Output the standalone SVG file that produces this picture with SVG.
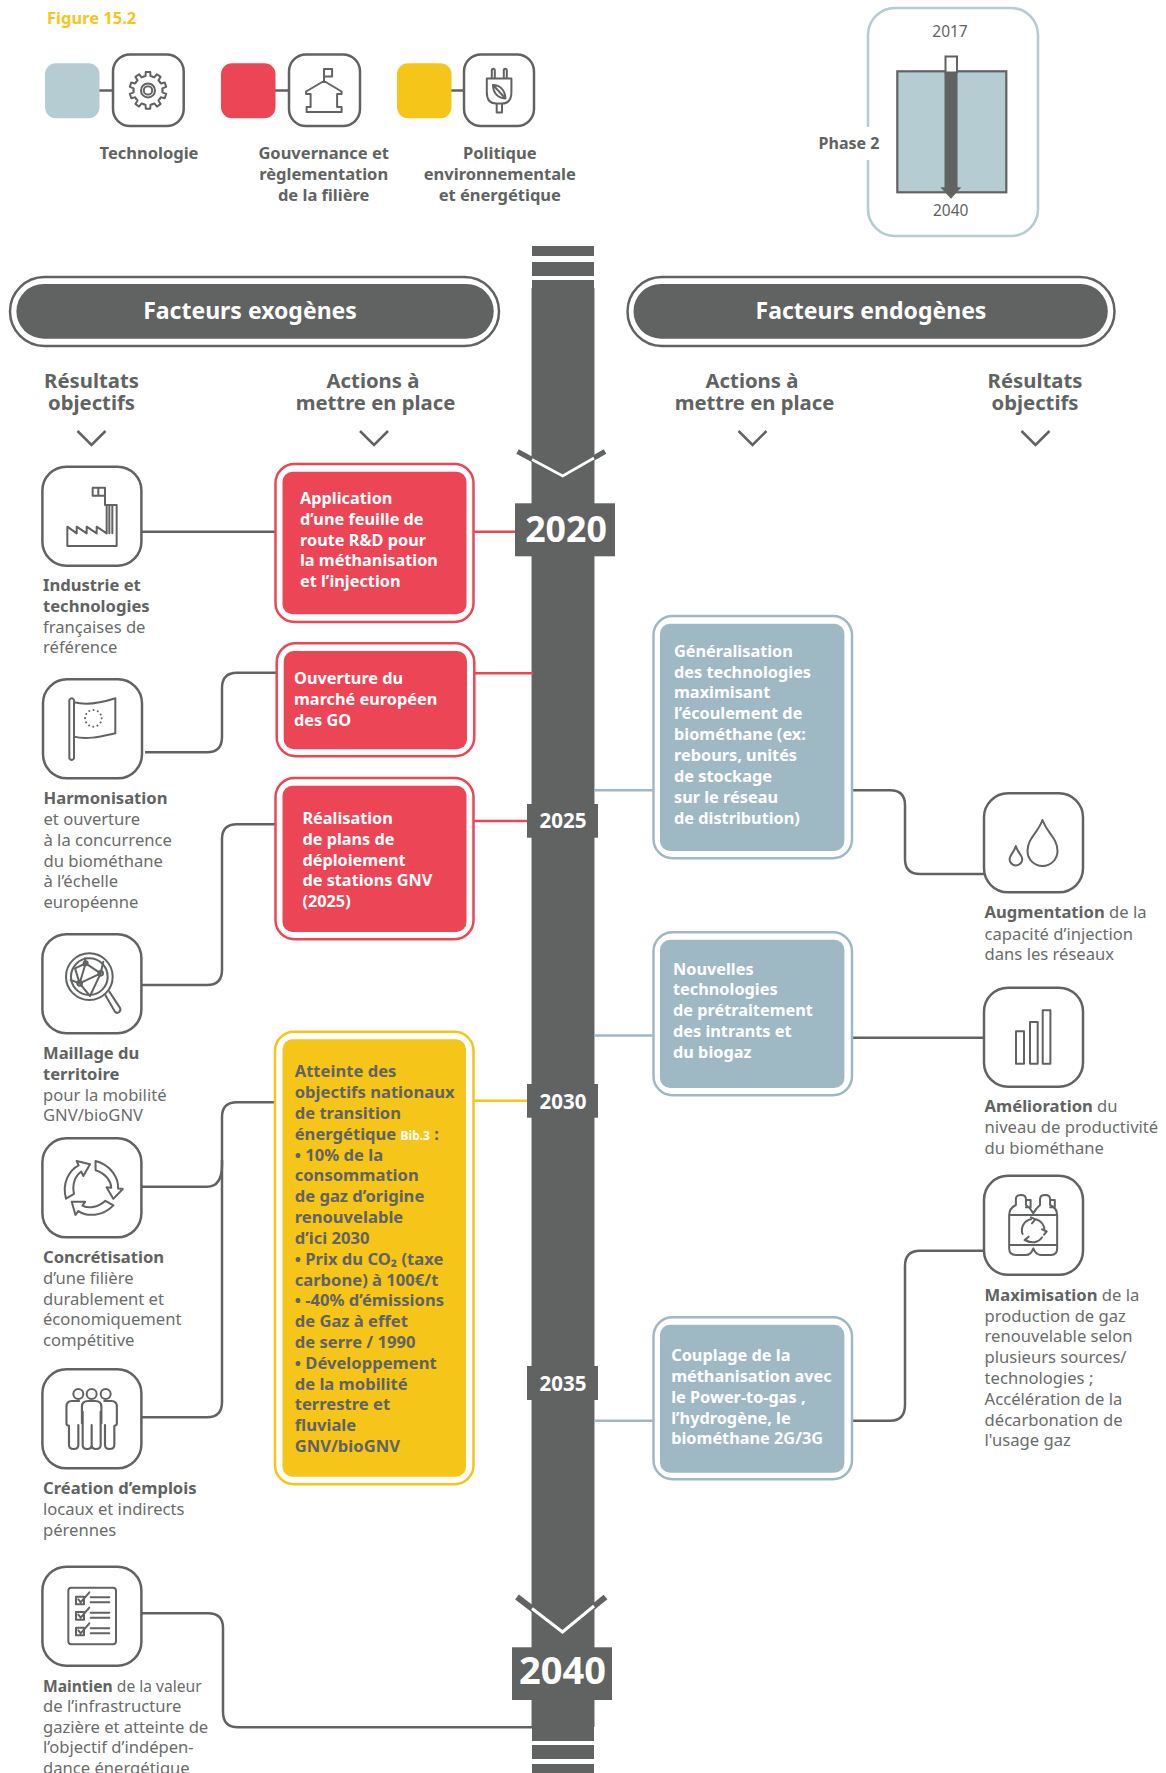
<svg xmlns="http://www.w3.org/2000/svg" xmlns:xlink="http://www.w3.org/1999/xlink" width="1166" height="1773" viewBox="0 0 1166 1773">
<style>
text{font-family:"Noto Sans","Open Sans","Liberation Sans",sans-serif;fill:#616362}
.b{font-weight:700}
.t{font-size:16.6px;font-weight:400;fill:#6a6c6b}
.t .b{fill:#616362}
.w{font-size:16.3px;font-weight:700;fill:#fff}
.g{font-size:16.6px;font-weight:700}
.h{font-size:20.3px;font-weight:700;text-anchor:middle}
.lg{font-size:16.5px;font-weight:700;text-anchor:middle}
.y{font-weight:700;fill:#fff;text-anchor:middle}
.pill{font-size:23px;font-weight:700;fill:#fff;text-anchor:middle}
.sq{fill:#fff;stroke:#616362;stroke-width:2.5}
.ic{fill:none;stroke:#616362;stroke-width:2;stroke-linejoin:round;stroke-linecap:round}
.z{fill:none;stroke:#616362;stroke-width:6;stroke-linejoin:round;stroke-linecap:round}
.cg{fill:none;stroke:#616362;stroke-width:2.5}
.cb{fill:none;stroke:#9eb9c4;stroke-width:2.5}
.cr{fill:none;stroke:#ec4556;stroke-width:2.5}
.cy{fill:none;stroke:#f6c519;stroke-width:2.5}
.dk{fill:#616362}
</style>
<defs>
<path id="tooth" d="M-4.48,-13.79 L-2.52,-14.28 L-2.25,-18.36 L2.25,-18.36 L2.52,-14.28 L4.48,-13.79"/>
<path id="rec" d="M78,806 C65,760 88,720 116,706 L110,693 L150,703 L130,738 L124,725 C108,735 95,760 102,792 Z"/>
<rect id="box" x="0" y="0" width="99" height="99" rx="24"/>
</defs>

<g id="pillar">
<rect x="531" y="288" width="64" height="1439" fill="#b3b6b6"/>
<rect class="dk" x="532" y="246" width="62" height="10"/>
<rect class="dk" x="532" y="262" width="62" height="14"/>
<rect class="dk" x="532" y="280" width="62" height="1461"/>
<rect class="dk" x="532" y="1745" width="62" height="14"/>
<rect class="dk" x="532" y="1764" width="62" height="9"/>
<polyline points="517.5,451.5 562.7,476 605,451.5" fill="none" stroke="#616362" stroke-width="5"/>
<polyline points="532,459.5 562.7,476 594,458" fill="none" stroke="#fff" stroke-width="2.6"/>
<polyline points="517,1597 562.5,1632 605.5,1597" fill="none" stroke="#616362" stroke-width="6"/>
<polyline points="532,1608.5 562.5,1632 594,1606" fill="none" stroke="#fff" stroke-width="3"/>
</g>

<g id="connectors">
<path class="cg" d="M141,531.7H275"/>
<path class="cr" d="M473,531.7H516"/>
<path class="cg" d="M145,752.3H207Q222,752.3 222,737V688Q222,672.7 237,672.7H277"/>
<path class="cr" d="M474,673.3H533"/>
<path class="cg" d="M141,985H207Q222,985 222,970V839Q222,824.3 237,824.3H275"/>
<path class="cr" d="M473,821H528"/>
<path class="cg" d="M141,1417.3H207Q222,1417.3 222,1402V1117Q222,1102.3 237,1102.3H275"/>
<path class="cg" d="M141,1186.7H207Q222,1186.7 222,1165V1160"/>
<path class="cy" d="M473,1100.7H528"/>
<path class="cg" d="M141,1613.3H208Q223,1613.3 223,1628V1712Q223,1727.3 238,1727.3H533"/>
<path class="cb" d="M594,790.2H653"/>
<path class="cg" d="M852,790.2H890Q905,790.2 905,805V859Q905,874 920,874H984"/>
<path class="cb" d="M594,1035.6H653"/>
<path class="cg" d="M852,1037.8H984"/>
<path class="cb" d="M594,1420.7H653"/>
<path class="cg" d="M852,1420.7H890Q905,1420.7 905,1405V1266Q905,1250.7 920,1250.7H984"/>
<path class="cg" d="M99,90.4H114M275,90.4H290M451,90.4H465"/>
</g>

<text id="figure-title" x="47" y="24" font-size="16.5" font-weight="700" style="fill:#f6c519">Figure 15.2</text>

<g id="legend-tech">
<rect x="45" y="63.3" width="54.5" height="55" rx="11" fill="#b5ccd3"/>
<rect class="sq" x="113" y="54.5" width="70.7" height="71.5" rx="17"/>
<g class="ic" stroke-width="1.7" transform="translate(148,90.4)">
<use xlink:href="#tooth"/><use xlink:href="#tooth" transform="rotate(36)"/><use xlink:href="#tooth" transform="rotate(72)"/><use xlink:href="#tooth" transform="rotate(108)"/><use xlink:href="#tooth" transform="rotate(144)"/><use xlink:href="#tooth" transform="rotate(180)"/><use xlink:href="#tooth" transform="rotate(216)"/><use xlink:href="#tooth" transform="rotate(252)"/><use xlink:href="#tooth" transform="rotate(288)"/><use xlink:href="#tooth" transform="rotate(324)"/>
<circle r="7"/><circle r="4.2"/>
</g>
<text class="lg" x="149" y="159">Technologie</text>
</g>
<g id="legend-gov">
<rect x="221" y="63.3" width="54.5" height="55" rx="11" fill="#ec4556"/>
<rect class="sq" x="289" y="54.5" width="71" height="71.5" rx="17"/>
<path class="ic" transform="translate(-3.4,0)" d="M327.4,81 L309.5,91.5 V94 H314 V107 H310 V112 H345 V107 H340.5 V94 H345 V91.5 Z M327.4,81 V69 H335.5 V76.5 H327.4"/>
<text class="lg" x="323.7" y="159"><tspan x="323.7">Gouvernance et</tspan><tspan x="323.7" y="180">règlementation</tspan><tspan x="323.7" y="201">de la filière</tspan></text>
</g>
<g id="legend-pol">
<rect x="397" y="63.3" width="54.5" height="55" rx="11" fill="#f6c519"/>
<rect class="sq" x="464" y="54.5" width="70" height="71.5" rx="17"/>
<path class="ic" transform="translate(-5,0)" d="M496.8,78.5 V70.5 Q496.8,68.7 498.2,68.7 Q499.8,68.7 499.8,70.5 V78.5 M508.8,78.5 V70.5 Q508.8,68.7 510.2,68.7 Q511.8,68.7 511.8,70.5 V78.5 M491.8,78.5 H516.4 V92 Q516.4,103.5 507,103.5 H501 Q491.8,103.5 491.8,92 Z M501.7,103.5 V112.4 H507 V103.5 M498,85 C505,85 510,90 510.5,98.5 C503,98 498,93 498,85 Z M498,85 L510.5,98.5"/>
<text class="lg" x="499.8" y="159"><tspan x="499.8">Politique</tspan><tspan x="499.8" y="180">environnementale</tspan><tspan x="499.8" y="201">et énergétique</tspan></text>
</g>

<g id="phase">
<rect x="868" y="8" width="170" height="228" rx="27" fill="#fff" stroke="#b5ccd3" stroke-width="2.6"/>
<rect x="860" y="127" width="14" height="33" fill="#fff"/>
<rect x="897.3" y="71.3" width="109" height="121" fill="#b5ccd3" stroke="#616362" stroke-width="2.2"/>
<rect x="945.5" y="56.5" width="11.5" height="16" fill="#fff" stroke="#616362" stroke-width="2"/>
<rect class="dk" x="944.5" y="72.5" width="13" height="116"/>
<path class="dk" d="M940.3,187.3H961.3L951,198.7Z"/>
<text x="950" y="37" font-size="15.5" text-anchor="middle">2017</text>
<text x="950.7" y="216" font-size="15.5" text-anchor="middle">2040</text>
<text class="b" x="849" y="149" font-size="16" text-anchor="middle">Phase 2</text>
</g>

<g id="header-exo">
<rect x="10" y="277" width="489" height="69" rx="34.5" fill="#fff" stroke="#616362" stroke-width="2.5"/>
<rect class="dk" x="16.4" y="284" width="477.3" height="54.7" rx="27.3"/>
<text class="pill" x="250" y="319">Facteurs exogènes</text>
</g>
<g id="header-endo">
<rect x="627.5" y="277" width="487" height="69" rx="34.5" fill="#fff" stroke="#616362" stroke-width="2.5"/>
<rect class="dk" x="633.5" y="284" width="474.3" height="54.7" rx="27.3"/>
<text class="pill" x="871" y="319">Facteurs endogènes</text>
</g>

<g id="col-heads">
<text class="h" x="91.5" y="388"><tspan x="91.5">Résultats</tspan><tspan x="91.5" y="410">objectifs</tspan></text>
<text class="h" x="374" y="388"><tspan x="373">Actions à</tspan><tspan x="375.5" y="410">mettre en place</tspan></text>
<text class="h" x="753" y="388"><tspan x="752">Actions à</tspan><tspan x="754.5" y="410">mettre en place</tspan></text>
<text class="h" x="1035" y="388"><tspan x="1035">Résultats</tspan><tspan x="1035" y="410">objectifs</tspan></text>
<path class="cg" stroke-width="2" d="M77.5,431 L91.5,445 L105.5,431 M360,431 L374,445 L388,431 M738.5,431 L752.5,445 L766.5,431 M1021.5,431 L1035.5,445 L1049.5,431"/>
</g>

<g id="year-2020"><rect class="dk" x="515" y="503.3" width="100" height="53"/><text class="y" x="566" y="542" font-size="35.7">2020</text></g>
<g id="year-2025"><rect class="dk" x="527" y="804" width="71" height="33.7"/><text class="y" x="563" y="828" font-size="20.5">2025</text></g>
<g id="year-2030"><rect class="dk" x="527" y="1084" width="71" height="33.7"/><text class="y" x="563" y="1108.5" font-size="20.5">2030</text></g>
<g id="year-2035"><rect class="dk" x="527" y="1366" width="71" height="34"/><text class="y" x="563" y="1390.5" font-size="20.5">2035</text></g>
<g id="year-2040"><rect class="dk" x="512" y="1647.3" width="100" height="52.7"/><text class="y" x="562.4" y="1684" font-size="38">2040</text></g>

<g id="action-feuille">
<rect x="275.5" y="464" width="198" height="158" rx="19" fill="#fff" stroke="#ec4556" stroke-width="2.5"/>
<rect x="282.5" y="471.7" width="184" height="142.6" rx="10" fill="#ec4556"/>
<text class="w"><tspan x="300" y="504">Application</tspan><tspan x="300" y="525">d’une feuille de</tspan><tspan x="300" y="545.5">route R&amp;D pour</tspan><tspan x="300" y="566">la méthanisation</tspan><tspan x="300" y="587">et l’injection</tspan></text>
</g>
<g id="action-go">
<rect x="276.7" y="643.3" width="197.6" height="113" rx="19" fill="#fff" stroke="#ec4556" stroke-width="2.5"/>
<rect x="283.7" y="651" width="183.3" height="98.3" rx="10" fill="#ec4556"/>
<text class="w"><tspan x="294" y="684.3">Ouverture du</tspan><tspan x="294" y="705.3">marché européen</tspan><tspan x="294" y="726">des GO</tspan></text>
</g>
<g id="action-gnv">
<rect x="275.5" y="778" width="198" height="161.3" rx="19" fill="#fff" stroke="#ec4556" stroke-width="2.5"/>
<rect x="282.5" y="785.7" width="184" height="146.3" rx="10" fill="#ec4556"/>
<text class="w"><tspan x="302.4" y="824.3">Réalisation</tspan><tspan x="302.4" y="845.3">de plans de</tspan><tspan x="302.4" y="865.8">déploiement</tspan><tspan x="302.4" y="886.3">de stations GNV</tspan><tspan x="302.4" y="907.3">(2025)</tspan></text>
</g>
<g id="action-objectifs">
<rect x="275" y="1031.7" width="198.5" height="452.6" rx="19" fill="#fff" stroke="#f6c519" stroke-width="2.5"/>
<rect x="282.5" y="1039.3" width="183.5" height="437.4" rx="10" fill="#f6c519"/>
<text class="g"><tspan x="294.7" y="1077.3">Atteinte des</tspan><tspan x="294.7" y="1098">objectifs nationaux</tspan><tspan x="294.7" y="1119">de transition</tspan><tspan x="294.7" y="1140">énergétique </tspan><tspan font-size="12" style="fill:#fff">Bib.3</tspan><tspan> :</tspan><tspan x="294.7" y="1160.5">• 10% de la</tspan><tspan x="294.7" y="1181">consommation</tspan><tspan x="294.7" y="1202">de gaz d’origine</tspan><tspan x="294.7" y="1223">renouvelable</tspan><tspan x="294.7" y="1244">d’ici 2030</tspan><tspan x="294.7" y="1264.7">• Prix du CO₂ (taxe</tspan><tspan x="294.7" y="1285.5">carbone) à 100€/t</tspan><tspan x="294.7" y="1306">• -40% d’émissions</tspan><tspan x="294.7" y="1327">de Gaz à effet</tspan><tspan x="294.7" y="1348">de serre / 1990</tspan><tspan x="294.7" y="1368.7">• Développement</tspan><tspan x="294.7" y="1389.5">de la mobilité</tspan><tspan x="294.7" y="1410">terrestre et</tspan><tspan x="294.7" y="1431">fluviale</tspan><tspan x="294.7" y="1452">GNV/bioGNV</tspan></text>
</g>

<g id="action-generalisation">
<rect x="653.5" y="616" width="198.5" height="242.3" rx="19" fill="#fff" stroke="#9eb9c4" stroke-width="2.5"/>
<rect x="660" y="623.7" width="184.4" height="227.3" rx="10" fill="#9eb9c4"/>
<text class="w"><tspan x="674" y="657.4">Généralisation</tspan><tspan x="674" y="677.7">des technologies</tspan><tspan x="674" y="698.4">maximisant</tspan><tspan x="674" y="719.4">l’écoulement de</tspan><tspan x="674" y="740">biométhane (ex:</tspan><tspan x="674" y="761">rebours, unités</tspan><tspan x="674" y="782">de stockage</tspan><tspan x="674" y="802.8">sur le réseau</tspan><tspan x="674" y="823.5">de distribution)</tspan></text>
</g>
<g id="action-pretraitement">
<rect x="653.5" y="932.2" width="198.5" height="163" rx="19" fill="#fff" stroke="#9eb9c4" stroke-width="2.5"/>
<rect x="660" y="939.8" width="184.4" height="148.2" rx="10" fill="#9eb9c4"/>
<text class="w"><tspan x="673" y="975">Nouvelles</tspan><tspan x="673" y="995.3">technologies</tspan><tspan x="673" y="1016.4">de prétraitement</tspan><tspan x="673" y="1037.4">des intrants et</tspan><tspan x="673" y="1058">du biogaz</tspan></text>
</g>
<g id="action-couplage">
<rect x="653.5" y="1317.3" width="198.5" height="162" rx="19" fill="#fff" stroke="#9eb9c4" stroke-width="2.5"/>
<rect x="660" y="1324.7" width="184.4" height="148" rx="10" fill="#9eb9c4"/>
<text class="w"><tspan x="671.2" y="1361">Couplage de la</tspan><tspan x="671.2" y="1382">méthanisation avec</tspan><tspan x="671.2" y="1403">le Power-to-gas ,</tspan><tspan x="671.2" y="1424">l’hydrogène, le</tspan><tspan x="671.2" y="1444">biométhane 2G/3G</tspan></text>
</g>

<g id="result-industrie">
<use xlink:href="#box" class="sq" x="42.4" y="466.7"/>
<g transform="translate(40,465) scale(.3333)"><path class="z" d="M82,185 L110,205 V185 L140,205 V185 L170,205 V185 L200,205 V120 H230 V243 H82 Z M208,120 V205 M217,120 V205 M195,120 V68 H158 V92 H195 M175,68 V92"/></g>
<text class="t"><tspan class="b" x="43" y="590.7">Industrie et</tspan><tspan class="b" x="43" y="611.7">technologies</tspan><tspan x="43" y="632.7">françaises de</tspan><tspan x="43" y="653.3">référence</tspan></text>
</g>
<g id="result-harmonisation">
<use xlink:href="#box" class="sq" x="43" y="679.3"/>
<g transform="translate(40,465) scale(.3333)"><path class="z" d="M88,705 Q95,695 102,705 V880 Q95,890 88,880 Z M102,712 C140,722 180,715 226,700 V805 C180,815 140,825 102,815"/><circle cx="160" cy="760" r="25" fill="none" stroke="#616362" stroke-width="6" stroke-linecap="round" stroke-dasharray="0.1 12.99"/></g>
<text class="t"><tspan class="b" x="43.5" y="804">Harmonisation</tspan><tspan x="43.5" y="825">et ouverture</tspan><tspan x="43.5" y="846">à la concurrence</tspan><tspan x="43.5" y="866.5">du biométhane</tspan><tspan x="43.5" y="886.7">à l’échelle</tspan><tspan x="43.5" y="907.7">européenne</tspan></text>
</g>
<g id="result-maillage">
<use xlink:href="#box" class="sq" x="42.4" y="934.2"/>
<g transform="translate(40,930) scale(.3333)"><circle class="z" cx="148" cy="140" r="70"/><circle class="z" cx="148" cy="140" r="55"/><path class="z" d="M196,195 L224,244 Q230,252 238,246 Q244,240 239,232 L208,185 M137,100 L182,130 L119,160 Z M137,100 L105,115 L119,160 L150,198 L182,130 M182,130 L190,95 M119,160 L92,150 M137,100 L135,85"/><circle class="z" cx="137" cy="100" r="6"/><circle class="z" cx="182" cy="130" r="7"/><circle class="z" cx="119" cy="160" r="7"/></g>
<text class="t"><tspan class="b" x="43" y="1059">Maillage du</tspan><tspan class="b" x="43" y="1080">territoire</tspan><tspan x="43" y="1100.7">pour la mobilité</tspan><tspan x="43" y="1121">GNV/bioGNV</tspan></text>
</g>
<g id="result-concretisation">
<use xlink:href="#box" class="sq" x="42.4" y="1138.3"/>
<g transform="translate(40,930) scale(.3333)" class="z"><use xlink:href="#rec"/><use xlink:href="#rec" transform="rotate(120 155 775)"/><use xlink:href="#rec" transform="rotate(240 155 775)"/></g>
<text class="t"><tspan class="b" x="43" y="1262.7">Concrétisation</tspan><tspan x="43" y="1283.7">d’une filière</tspan><tspan x="43" y="1304.7">durablement et</tspan><tspan x="43" y="1324.7">économiquement</tspan><tspan x="43" y="1345.7">compétitive</tspan></text>
</g>
<g id="result-emplois">
<use xlink:href="#box" class="sq" x="42.4" y="1369.3"/>
<g transform="translate(40,1365) scale(.3333)"><circle class="z" cx="115" cy="87" r="15"/><circle class="z" cx="155" cy="87" r="15"/><circle class="z" cx="197" cy="87" r="15"/><path class="z" transform="translate(155,0) scale(1.08,1) translate(-155,0)" d="M120,108 H100 Q85,108 85,125 V175 Q85,182 92,182 V240 Q92,252 105,252 Q118,252 118,240 V180 M190,108 H210 Q225,108 225,125 V175 Q225,182 218,182 V240 Q218,252 205,252 Q192,252 192,240 V180 M128,175 V125 Q128,108 145,108 H165 Q182,108 182,125 V175 M130,140 V240 Q130,252 143,252 Q155,252 155,240 V180 V240 Q155,252 167,252 Q180,252 180,240 V140"/></g>
<text class="t"><tspan class="b" x="43" y="1494">Création d’emplois</tspan><tspan x="43" y="1515">locaux et indirects</tspan><tspan x="43" y="1535.7">pérennes</tspan></text>
</g>
<g id="result-maintien">
<use xlink:href="#box" class="sq" x="42.4" y="1566.7"/>
<g transform="translate(40,1365) scale(.3333)"><rect class="z" x="85" y="668" width="143" height="170" rx="9"/><path class="z" d="M108,695 H132 V718 H108 Z M108,741 H132 V764 H108 Z M108,788 H132 V811 H108 Z M115,703 L122,712 L148,682 M115,749 L122,758 L148,728 M115,796 L122,805 L148,775 M152,697 H208 M152,712 H208 M152,743 H208 M152,758 H208 M152,790 H208 M152,805 H208"/></g>
<text class="t"><tspan class="b" x="43" y="1691.7" font-size="15.6">Maintien</tspan><tspan font-size="15.6"> de la valeur</tspan><tspan x="43" y="1711.7">de l’infrastructure</tspan><tspan x="43" y="1732.7">gazière et atteinte de</tspan><tspan x="43" y="1753.3">l’objectif d’indépen-</tspan><tspan x="43" y="1774">dance énergétique</tspan></text>
</g>

<g id="result-augmentation">
<use xlink:href="#box" class="sq" x="984" y="793.3"/>
<path class="ic" d="M1042.5,820 C1038,833 1027.5,838 1027.5,851 A15,15 0 0 0 1057.5,851 C1057.5,838 1047,833 1042.5,820 Z M1015.8,846 C1014,853 1009.5,855 1009.5,859 A6.4,6.4 0 0 0 1022.3,859 C1022.3,855 1017.6,853 1015.8,846 Z"/>
<text class="t"><tspan class="b" x="984.6" y="918.4">Augmentation</tspan><tspan> de la</tspan><tspan x="984.6" y="939.5">capacité d’injection</tspan><tspan x="984.6" y="960">dans les réseaux</tspan></text>
</g>
<g id="result-amelioration">
<use xlink:href="#box" class="sq" x="984" y="987.7"/>
<path class="ic" d="M1016,1031.3 H1024 V1063.8 H1016 Z M1030,1022 H1037.7 V1063.8 H1030 Z M1042.7,1010.2 H1050.4 V1063.8 H1042.7 Z"/>
<text class="t"><tspan class="b" x="984.6" y="1112">Amélioration</tspan><tspan> du</tspan><tspan x="984.6" y="1133">niveau de productivité</tspan><tspan x="984.6" y="1154">du biométhane</tspan></text>
</g>
<g id="result-maximisation">
<use xlink:href="#box" class="sq" x="984" y="1175.8"/>
<g transform="translate(640,1160) scale(.3356,.3333)"><path class="z" d="M1100,165 Q1100,145 1120,135 V118 Q1120,105 1135,105 Q1150,105 1150,118 V135 Q1165,145 1172,160 Q1180,145 1192,135 V118 Q1192,105 1207,105 Q1222,105 1222,118 V135 Q1243,145 1243,165 V265 Q1243,285 1225,285 H1195 Q1180,285 1172,265 Q1165,285 1150,285 H1120 Q1100,285 1100,265 Z M1100,165 H1243 M1100,255 H1243 M1150,120 H1164 V142 H1150 M1222,120 H1236 V142 H1222"/><path class="z" d="M1140,222 A33,33 0 0 1 1165,178 M1180,178 A33,33 0 0 1 1205,212 M1198,232 A33,33 0 0 1 1150,240 M1165,172 L1178,178 L1168,190 M1198,208 L1212,214 L1204,224 M1158,230 L1146,240 L1160,246"/></g>
<text class="t"><tspan class="b" x="984.6" y="1301">Maximisation</tspan><tspan> de la</tspan><tspan x="984.6" y="1322.3">production de gaz</tspan><tspan x="984.6" y="1342.3">renouvelable selon</tspan><tspan x="984.6" y="1363.3">plusieurs sources/</tspan><tspan x="984.6" y="1384.3">technologies ;</tspan><tspan x="984.6" y="1405.3">Accélération de la</tspan><tspan x="984.6" y="1426.3">décarbonation de</tspan><tspan x="984.6" y="1446.3">l'usage gaz</tspan></text>
</g>
</svg>
